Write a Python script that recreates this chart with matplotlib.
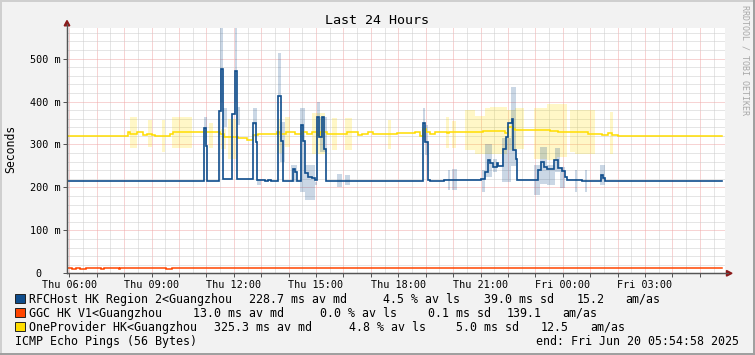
import datetime as dt
import matplotlib
matplotlib.use("Agg")
import matplotlib.pyplot as plt
import matplotlib.dates as mdates
from matplotlib.patches import Rectangle, Polygon
from matplotlib.lines import Line2D
from matplotlib.ticker import FuncFormatter, MultipleLocator

# --- data (ms), times are clock times inside the 24h window ---
START = dt.datetime(2025, 6, 19, 5, 54, 58)
END = START + dt.timedelta(hours=24)
LAST = "05:49"

rfc_t = ["05:55", "10:54", "10:59", "11:02", "11:28", "11:32", "11:37", "11:57", "12:03", "12:08",
         "12:41", "12:48", "12:50", "13:00", "13:08", "13:15", "13:22", "13:36", "13:43", "13:48",
         "14:09", "14:13", "14:18", "14:27", "14:32", "14:36", "14:43", "14:51", "14:58", "15:03",
         "15:07", "15:12", "15:18", "15:22", "18:53", "18:58", "19:04", "19:10", "19:39", "21:02",
         "21:10", "21:16", "21:21", "21:28", "21:36", "21:39", "21:50", "21:55", "22:01", "22:08",
         "22:12", "22:17", "22:19", "23:05", "23:13", "23:18", "23:25", "23:41", "23:50", "23:58",
         "00:04", "00:09", "00:42", "01:23", "01:28", "01:32"]
rfc_ms = [215, 338, 297, 215, 377, 475, 219, 372, 470, 219,
          351, 306, 218, 217, 215, 217, 215, 412, 307, 214,
          244, 236, 214, 345, 307, 233, 225, 221, 218, 363,
          318, 363, 290, 214, 350, 306, 218, 214, 216.5, 219,
          237, 263, 256, 248, 256, 251, 290, 318, 349, 360,
          288, 267, 217, 240, 260, 248, 243, 263, 246, 239,
          225, 217, 215, 228, 221, 215]

# smoke (min/max spread) for RFCHost
rfc_sm_from = ["10:54", "11:30", "11:37", "12:03", "12:08", "12:41", "12:50", "13:36", "13:41", "14:06",
               "14:25", "14:36", "14:58", "15:02", "15:09", "15:45", "16:04", "18:53", "18:58", "19:48",
               "19:57", "21:03", "21:10", "21:28", "21:48", "22:06", "22:56", "23:10", "23:25", "23:43",
               "23:54", "00:27", "00:49", "01:22"]
rfc_sm_to = ["11:02", "11:37", "11:45", "12:08", "12:14", "12:50", "13:00", "13:43", "13:52", "14:18",
             "14:36", "14:58", "15:02", "15:09", "15:23", "15:56", "16:14", "18:58", "19:06", "19:53",
             "20:08", "21:10", "21:24", "21:36", "22:06", "22:17", "23:10", "23:25", "23:43", "23:54",
             "00:05", "00:32", "00:54", "01:33"]
rfc_sm_lo = [300, 400, 341, 400, 345, 345, 205, 412, 260, 213,
             190, 170, 205, 320, 283, 201, 205, 306, 275, 194,
             194, 190, 225, 236, 213, 250, 182, 209, 205, 236,
             198, 190, 190, 205]
rfc_sm_hi = [365, 580, 384, 580, 387, 384, 218, 513, 353, 252,
             385, 252, 213, 399, 364, 232, 228, 384, 345, 240,
             244, 240, 302, 267, 314, 434, 252, 294, 252, 291,
             248, 240, 240, 252]

ggc_t = ["05:55", "06:07", "06:14", "06:23", "06:37", "07:10", "07:17", "07:48", "07:52", "09:32", "09:44"]
ggc_ms = [13.5, 10.5, 13.5, 10.5, 13.5, 10.5, 13.5, 10.5, 13.5, 10.5, 13.5]

one_t = ["05:55", "08:08", "08:13", "08:28", "08:42", "08:50", "09:00", "09:08", "09:40", "09:48",
         "11:30", "11:39", "12:10", "12:28", "12:43", "12:54", "13:34", "13:41", "13:54", "14:14",
         "14:29", "14:40", "14:51", "15:02", "15:09", "15:23", "15:45", "16:07", "16:32", "16:41",
         "16:54", "17:05", "17:31", "17:57", "18:37", "18:48", "18:54", "19:00", "19:10", "19:21",
         "19:46", "19:50", "20:01", "21:06", "21:54", "22:01", "22:11", "22:16", "23:32", "23:50",
         "00:27", "00:55", "01:26", "01:39", "01:48", "02:01"]
one_ms = [320, 328, 325, 328, 322, 325, 322, 320, 325, 328,
          325, 318, 315, 311, 322, 325, 328, 324, 328, 325,
          328, 325, 328, 322, 328, 325, 324, 328, 322, 325,
          328, 325, 324, 326, 328, 320, 335, 328, 325, 328,
          326, 328, 329, 331, 327, 341, 335, 333, 332, 329,
          328, 325, 322, 327, 323, 320]

one_sm_from = ["08:13", "08:53", "09:22", "09:44", "11:06", "11:32", "11:48", "13:34", "13:52", "14:51",
               "15:34", "16:04", "17:38", "19:44", "19:58", "20:26", "20:48", "21:10", "21:21", "21:57",
               "22:16", "22:56", "23:25", "23:47", "00:16", "00:27", "01:44"]
one_sm_to = ["08:28", "09:00", "09:30", "10:29", "11:15", "11:43", "12:06", "13:45", "14:03", "15:20",
             "15:45", "16:18", "17:44", "19:50", "20:06", "20:48", "21:10", "21:21", "21:57", "22:16",
             "22:34", "23:25", "23:47", "00:09", "00:27", "01:11", "01:50"]
one_sm_lo = [291, 294, 283, 291, 292, 290, 267, 280, 294, 277,
             288, 288, 290, 291, 291, 287, 277, 279, 279, 287,
             290, 267, 264, 271, 283, 279, 279]
one_sm_hi = [363, 357, 357, 363, 350, 335, 360, 360, 364, 373,
             362, 362, 358, 363, 355, 380, 366, 386, 387, 380,
             385, 384, 395, 395, 380, 380, 376]

legend_rows = [
    ("RFCHost HK Region 2<Guangzhou", "228.7 ms av md", "4.5 % av ls", "39.0 ms sd", "15.2", "am/as"),
    ("GGC HK V1<Guangzhou", "13.0 ms av md", "0.0 % av ls", "0.1 ms sd", "139.1", "am/as"),
    ("OneProvider HK<Guangzhou", "325.3 ms av md", "4.8 % av ls", "5.0 ms sd", "12.5", "am/as"),
]

BLUE = "#0f4d8c"
ORANGE = "#ff4500"
YELLOW = "#ffdd00"

W, H = 755, 355


def when(s):
    h, m = map(int, s.split(":"))
    t = dt.datetime(2025, 6, 19, h, m)
    if t < START:
        t += dt.timedelta(days=1)
    return t


def fx(x):
    return x / W


def fy(y):
    return 1 - y / H


def step_line(ax, times, values, color, lw):
    xs = [when(t) for t in times] + [when(LAST)]
    ys = list(values) + [values[-1]]
    ax.step(xs, ys, where="post", color=color, linewidth=lw, solid_joinstyle="miter")


def smoke(ax, t0, t1, lo, hi, color):
    for a, b, l, h in zip(t0, t1, lo, hi):
        ax.fill_between([when(a), when(b)], l, h, color=color, alpha=0.22, linewidth=0)


def x_label(v, pos):
    d = mdates.num2date(v)
    if d.minute == 0 and d.hour % 3 == 0:
        return d.strftime("%a %H:%M")
    return ""


def y_label(v, pos):
    if abs(v) < 1e-6:
        return "0   "
    return f"{v:.0f} m"


def main():
    plt.rcParams["font.family"] = ["DejaVu Sans Mono"]
    fig = plt.figure(figsize=(W / 100, H / 100), dpi=100, facecolor="#f2f2f2")

    ax = fig.add_axes([fx(67), fy(273.3), 658 / W, 245.6 / H])
    ax.set_facecolor("white")

    smoke(ax, one_sm_from, one_sm_to, one_sm_lo, one_sm_hi, YELLOW)
    smoke(ax, rfc_sm_from, rfc_sm_to, rfc_sm_lo, rfc_sm_hi, BLUE)
    step_line(ax, ggc_t, ggc_ms, ORANGE, 1.1)
    step_line(ax, one_t, one_ms, YELLOW, 1.1)
    step_line(ax, rfc_t, rfc_ms, BLUE, 1.2)

    ax.set_xlim(START, END)
    ax.set_ylim(0, 572)

    ax.xaxis.set_major_locator(mdates.HourLocator(byhour=range(24)))
    ax.xaxis.set_minor_locator(mdates.MinuteLocator(byminute=[30]))
    ax.xaxis.set_major_formatter(FuncFormatter(x_label))
    ax.yaxis.set_major_locator(MultipleLocator(100))
    ax.yaxis.set_minor_locator(MultipleLocator(20))
    ax.yaxis.set_major_formatter(FuncFormatter(y_label))

    ax.set_axisbelow(True)
    ax.grid(which="major", color="#f0a8a8", linestyle=(0, (1, 1)), linewidth=0.72)
    ax.grid(which="minor", color="#cccccc", linestyle=(0, (1, 1)), linewidth=0.72)

    ax.tick_params(which="major", length=3, width=0.72, color="#555555", labelsize=7.3, pad=1.5)
    ax.tick_params(which="minor", length=0)

    for side in ("top", "right"):
        ax.spines[side].set_visible(False)
    for side in ("left", "bottom"):
        ax.spines[side].set_color("#555555")
        ax.spines[side].set_linewidth(0.9)

    # axis extensions and arrows
    fig.add_artist(Line2D([fx(67), fx(67)], [fy(273.3), fy(24)], color="#555555", lw=0.9))
    fig.add_artist(Line2D([fx(67), fx(728)], [fy(273.3), fy(273.3)], color="#555555", lw=0.9))
    fig.add_artist(Polygon([[fx(64.2), fy(25.8)], [fx(69.8), fy(25.8)], [fx(67), fy(20.5)]],
                           closed=True, color="#8b1a1a", transform=fig.transFigure))
    fig.add_artist(Polygon([[fx(726.5), fy(270.5)], [fx(726.5), fy(276.1)], [fx(732), fy(273.3)]],
                           closed=True, color="#8b1a1a", transform=fig.transFigure))

    fig.text(fx(376.7), fy(24), "Last 24 Hours", ha="center", va="baseline", fontsize=9.6)
    fig.text(fx(10.5), fy(149), "Seconds", rotation=90, ha="center", va="center", fontsize=8.3)
    fig.text(fx(745), fy(60), "RRDTOOL / TOBI OETIKER", rotation=270, ha="center", va="center",
             fontsize=6, color="#a8a8a8")

    # legend block
    cols = [
        (30, 249.3, 384, 484.3, 577.3, 626),
        (30, 193.3, 321, 428.3, 507.3, 563.3),
        (30, 214.3, 349.3, 456.7, 541.7, 591),
    ]
    base = [303, 317, 331]
    for row, xs, yb, col in zip(legend_rows, cols, base, (BLUE, ORANGE, YELLOW)):
        fig.add_artist(Rectangle((fx(15.3), fy(yb + 0.3)), 9.2 / W, 9 / H, transform=fig.transFigure,
                                 facecolor=col, edgecolor="#222222", linewidth=0.7))
        for s, x in zip(row, xs):
            fig.text(fx(x - 0.7), fy(yb), s, ha="left", va="baseline", fontsize=8.35)
    fig.text(fx(15.3), fy(345), "ICMP Echo Pings (56 Bytes)", ha="left", va="baseline", fontsize=8.35)
    fig.text(fx(536), fy(345), "end: Fri Jun 20 05:54:58 2025", ha="left", va="baseline", fontsize=8.35)

    # frame shading
    fig.add_artist(Line2D([0, 1], [fy(0.7), fy(0.7)], color="#cfcfcf", lw=1.4))
    fig.add_artist(Line2D([fx(0.7), fx(0.7)], [0, 1], color="#cfcfcf", lw=1.4))
    fig.add_artist(Line2D([0, 1], [fy(354.3), fy(354.3)], color="#9e9e9e", lw=1.4))
    fig.add_artist(Line2D([fx(754.3), fx(754.3)], [0, 1], color="#9e9e9e", lw=1.4))

    fig.savefig("out.png", dpi=100, facecolor=fig.get_facecolor())


if __name__ == "__main__":
    main()
